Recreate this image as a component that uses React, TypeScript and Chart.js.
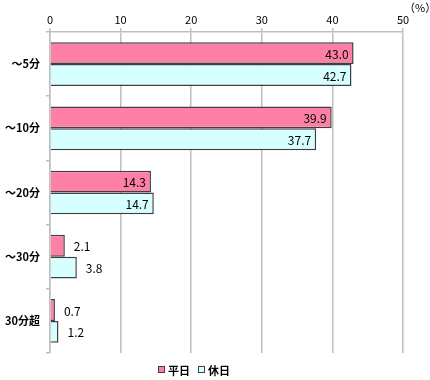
import React, { useEffect, useRef } from "react";
import { Chart, registerables } from "chart.js";

Chart.register(...registerables);

const categories = ["～5分", "～10分", "～20分", "～30分", "30分超"];
const weekday = [43.0, 39.9, 14.3, 2.1, 0.7];
const holiday = [42.7, 37.7, 14.7, 3.8, 1.2];
const seriesNames = ["平日", "休日"];
const xTicks = [0, 10, 20, 30, 40, 50];

const PINK = "#FF80A6";
const CYAN = "#D6FFFF";
const BORDER = "#404040";
const GRID = "#BFBFBF";
const FONT = "'Noto Sans CJK JP', 'Noto Sans', sans-serif";

const labelsPlugin = {
  id: "valueLabels",
  afterDatasetsDraw(chart: any) {
    const ctx = chart.ctx;
    ctx.save();
    ctx.font = `12px ${FONT}`;
    ctx.fillStyle = "#000";
    ctx.textBaseline = "middle";
    chart.data.datasets.forEach((ds: any, di: number) => {
      const meta = chart.getDatasetMeta(di);
      meta.data.forEach((bar: any, i: number) => {
        const v = ds.data[i];
        const txt = v.toFixed(1);
        if (v > 10) {
          ctx.textAlign = "right";
          ctx.fillText(txt, bar.x - 5, bar.y + 1);
        } else {
          ctx.textAlign = "left";
          ctx.fillText(txt, bar.x + 9, bar.y + 1);
        }
      });
    });
    // unit
    ctx.textAlign = "left";
    ctx.font = `11px ${FONT}`;
    ctx.fillText("（%）", 404, 8);
    // legend
    const ly = 370;
    let x = 158;
    chart.data.datasets.forEach((ds: any, di: number) => {
      ctx.fillStyle = ds.backgroundColor;
      ctx.fillRect(x, ly - 3, 6, 6);
      ctx.strokeStyle = BORDER;
      ctx.lineWidth = 1;
      ctx.strokeRect(x + 0.5, ly - 3.5, 6, 6);
      ctx.fillStyle = "#000";
      ctx.font = `bold 11px ${FONT}`;
      ctx.textAlign = "left";
      ctx.fillText(seriesNames[di], x + 10, ly + 1);
      x += 40;
    });
    ctx.restore();
  },
};

export default function App() {
  const ref = useRef<HTMLCanvasElement>(null);
  useEffect(() => {
    document.body.style.margin = "0";
    const chart = new Chart(ref.current!, {
      type: "bar",
      data: {
        labels: categories,
        datasets: [
          {
            label: seriesNames[0],
            data: weekday,
            backgroundColor: PINK,
            borderColor: BORDER,
            borderWidth: 1.5,
            categoryPercentage: 0.68,
            barPercentage: 1,
          },
          {
            label: seriesNames[1],
            data: holiday,
            backgroundColor: CYAN,
            borderColor: BORDER,
            borderWidth: 1.5,
            categoryPercentage: 0.68,
            barPercentage: 1,
          },
        ],
      },
      options: {
        indexAxis: "y",
        animation: false,
        responsive: false,
        maintainAspectRatio: false,
        layout: { padding: { left: 0, right: 27, top: 6, bottom: 27 } },
        plugins: {
          legend: { display: false },
          tooltip: { enabled: false },
        },
        scales: {
          x: {
            position: "top",
            min: 0,
            max: 50,
            afterBuildTicks: (s: any) => {
              s.ticks = xTicks.map((v) => ({ value: v }));
            },
            ticks: {
              color: "#000",
              font: { size: 11, family: FONT },
              padding: 2,
            },
            grid: { color: GRID, lineWidth: 1.5, tickLength: 4 },
            border: { color: GRID, width: 1.5 },
            afterFit: (s: any) => {
              s.height = 26;
            },
          },
          y: {
            ticks: {
              color: "#000",
              font: { size: 11, weight: "bold", family: FONT },
              padding: 6,
            },
            grid: {
              color: GRID,
              lineWidth: 1.5,
              tickLength: 4,
              drawOnChartArea: false,
              offset: true,
            },
            border: { color: GRID, width: 1.5 },
            afterFit: (s: any) => {
              s.width = 50;
            },
          },
        },
      },
      plugins: [labelsPlugin],
    } as any);
    return () => chart.destroy();
  }, []);
  return (
    <div style={{ width: 430, height: 380 }}>
      <canvas ref={ref} width={430} height={380} style={{ display: "block" }} />
    </div>
  );
}
